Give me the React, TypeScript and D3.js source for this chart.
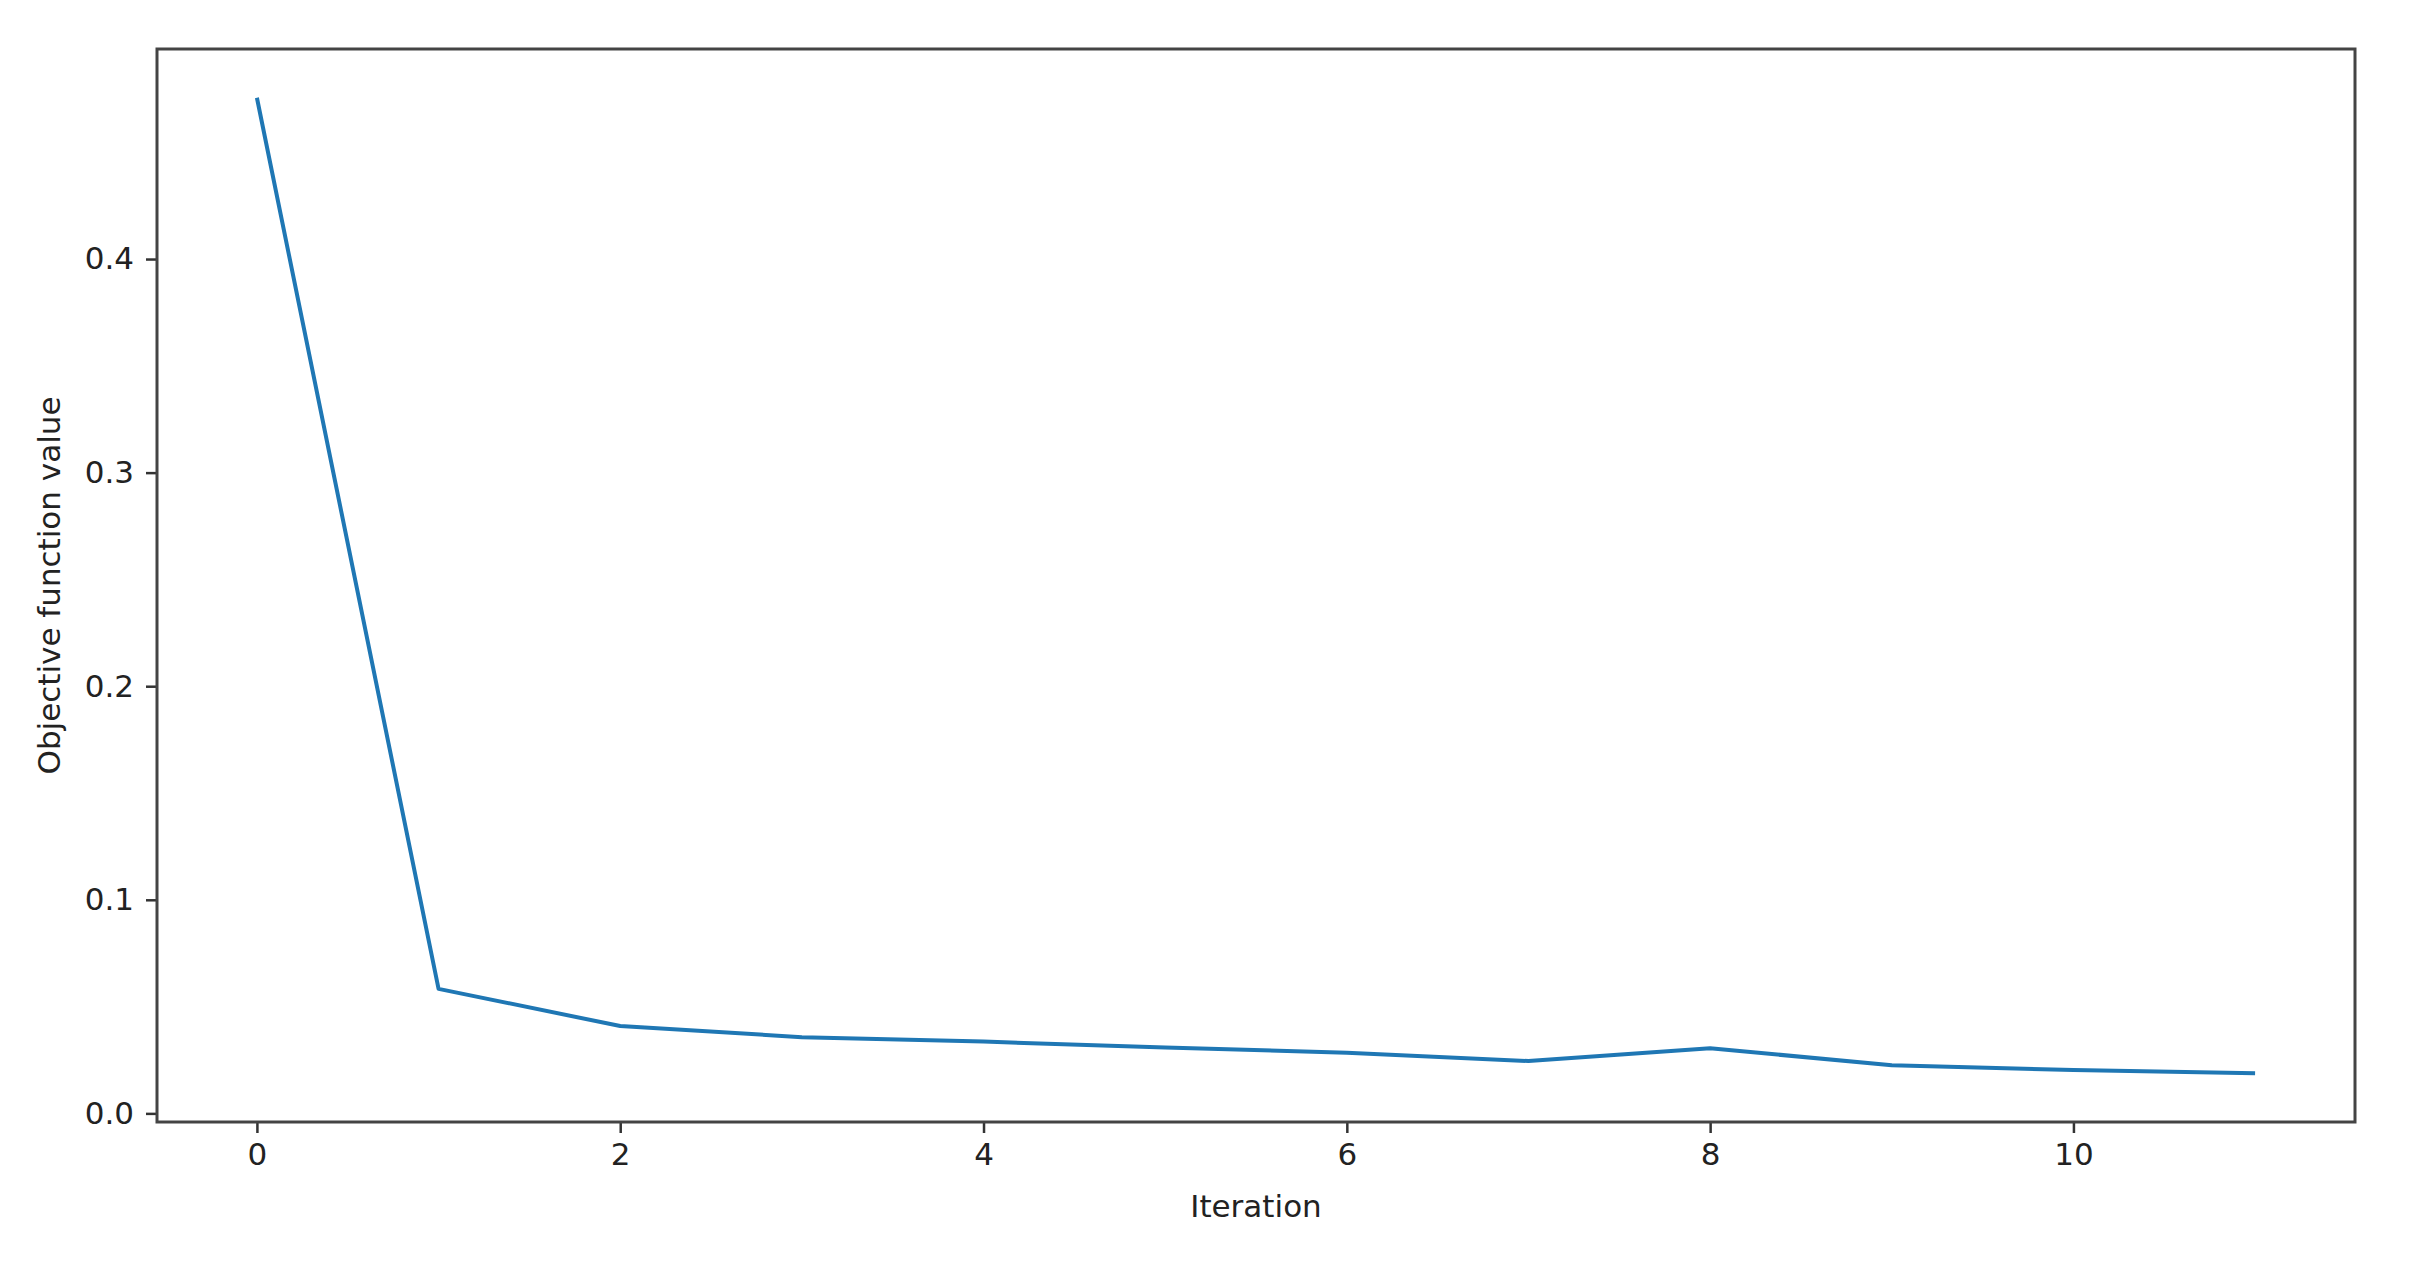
import React, { useRef, useEffect } from 'react';
import * as d3 from 'd3';

const iterations = [0, 1, 2, 3, 4, 5, 6, 7, 8, 9, 10, 11];
const objectiveValues = [0.4755, 0.0583, 0.0409, 0.0357, 0.0336, 0.0308, 0.0284, 0.0245, 0.0305, 0.0225, 0.0203, 0.0188];
const xTickValues = [0, 2, 4, 6, 8, 10];
const yTickValues = [0.0, 0.1, 0.2, 0.3, 0.4];

const App = () => {
  const ref = useRef<SVGSVGElement>(null);
  useEffect(() =>
  {
    const svg = d3.select(ref.current);
    svg.selectAll('*').remove();

    const width = 2409;
    const height = 1288;
    const margin = { left: 157, right: 2355, top: 49, bottom: 1122 };
    const font = "'DejaVu Sans', sans-serif";

    svg.attr('viewBox', `0 0 ${width} ${height}`);
    svg.append('rect').attr('width', width).attr('height', height).attr('fill', 'white');

    // matplotlib-style 5% margins
    const x = d3.scaleLinear().domain([-0.55, 11.55]).range([margin.left, margin.right]);
    const yMin = d3.min(objectiveValues);
    const yMax = d3.max(objectiveValues);
    const pad = (yMax - yMin) * 0.05;
    const y = d3.scaleLinear().domain([yMin - pad, yMax + pad]).range([margin.bottom, margin.top]);

    const line = d3.line().x((d, i) => x(iterations[i])).y(d => y(d));
    svg.append('path').datum(objectiveValues).attr('d', line).attr('fill', 'none')
      .attr('stroke', '#1f77b4').attr('stroke-width', 4).attr('stroke-linejoin', 'round');

    const xAxis = d3.axisBottom(x).tickValues(xTickValues).tickSize(11).tickPadding(10).tickFormat(d3.format('d'));
    const gx = svg.append('g').attr('transform', `translate(0,${margin.bottom})`).call(xAxis);
    const yAxis = d3.axisLeft(y).tickValues(yTickValues).tickSize(11).tickPadding(12).tickFormat(d3.format('.1f'));
    const gy = svg.append('g').attr('transform', `translate(${margin.left},0)`).call(yAxis);
    [gx, gy].forEach(g => {
      g.select('.domain').remove();
      g.selectAll('line').attr('stroke', '#333').attr('stroke-width', 2.5);
      g.selectAll('text').attr('fill', '#222').style('font-family', font).style('font-size', '31px');
    });

    svg.append('rect').attr('x', margin.left).attr('y', margin.top)
      .attr('width', margin.right - margin.left).attr('height', margin.bottom - margin.top)
      .attr('fill', 'none').attr('stroke', '#444').attr('stroke-width', 3);

    svg.append('text').attr('x', (margin.left + margin.right) / 2).attr('y', 1217)
      .attr('text-anchor', 'middle').style('font-family', font).style('font-size', '31px').attr('fill', '#222')
      .text('Iteration');
    svg.append('text').attr('transform', `translate(60,${(margin.top + margin.bottom) / 2}) rotate(-90)`)
      .attr('text-anchor', 'middle').style('font-family', font).style('font-size', '31px').attr('fill', '#222')
      .text('Objective function value');
  }, []);

  return <svg ref={ref} width={2409} height={1288} style={{ position: 'absolute', left: 0, top: 0, display: 'block' }} />;
};

export default App;
